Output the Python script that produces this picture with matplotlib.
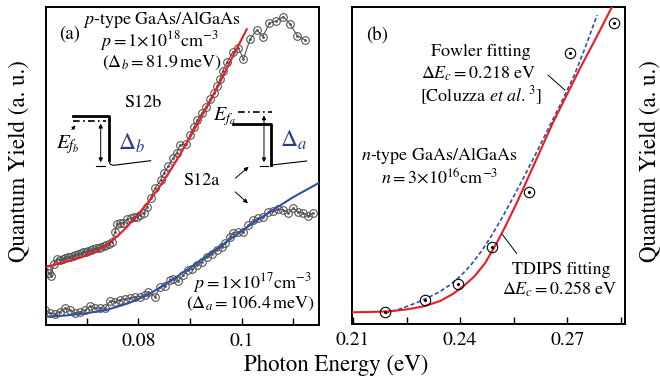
import matplotlib
matplotlib.use("Agg")
import matplotlib.pyplot as plt
from matplotlib.ticker import FixedLocator

plt.rcParams['font.family'] = ['STIXGeneral', 'Liberation Serif', 'DejaVu Serif']
plt.rcParams['mathtext.fontset'] = 'stix'

# ---- panel (a): p-type GaAs/AlGaAs ----
s12b_x = [0.06225, 0.06260, 0.06308, 0.06357, 0.06415,
          0.0648, 0.0653, 0.0658, 0.0663, 0.0668, 0.0673, 0.0678, 0.0683, 0.0688, 0.0693,
          0.0698, 0.0703, 0.0708, 0.0713, 0.0718, 0.0723, 0.0728, 0.0733, 0.0738, 0.0743, 0.0748,
          0.07548, 0.07587, 0.07645, 0.07703, 0.07781, 0.07853, 0.07917, 0.07975, 0.08033,
          0.08110, 0.08163, 0.08236, 0.08324, 0.08434, 0.08498, 0.08581, 0.08667, 0.08744,
          0.08808, 0.08924, 0.09002, 0.09079, 0.09143, 0.09229, 0.09312, 0.09390, 0.09467,
          0.09531, 0.09583, 0.09636, 0.09725, 0.09829, 0.09938, 0.10035, 0.10165, 0.10295,
          0.10411, 0.10539, 0.10669, 0.10810, 0.10940, 0.11081, 0.11231]
s12b_y = [17.6, 16.4, 15.4, 19.2, 20.8,
          20.4, 20.8, 21.0, 21.3, 21.5, 21.8, 22.0, 22.3, 22.5, 22.8,
          23.0, 23.3, 23.5, 23.8, 24.1, 24.3, 24.6, 24.9, 25.2, 25.5, 26.0,
          29.3, 31.8, 32.1, 32.1, 33.3, 33.6, 34.0, 34.0, 34.6,
          35.2, 37.1, 39.9, 43.1, 45.6, 47.9, 50.0, 52.4, 54.2,
          56.6, 56.9, 59.7, 62.4, 64.5, 66.6, 68.6, 71.0, 73.1,
          75.2, 77.3, 79.9, 82.8, 85.8, 87.2, 83.6, 89.9, 92.8,
          90.7, 94.9, 95.6, 97.0, 94.6, 91.0, 89.6]

s12a_x = [0.06195, 0.06289, 0.06386, 0.06483, 0.06579, 0.06676, 0.06773, 0.06870, 0.06967,
          0.07064, 0.07161, 0.07258, 0.07355, 0.07453, 0.07549, 0.07645, 0.07742, 0.07839,
          0.07936, 0.08033, 0.08130, 0.08194, 0.08324, 0.08421, 0.08517, 0.08614, 0.08678,
          0.08775, 0.08872, 0.08969, 0.09035, 0.09132, 0.09229, 0.09326, 0.09422, 0.09519,
          0.09616, 0.09680, 0.09777, 0.09841, 0.09938, 0.10035, 0.10132, 0.10229, 0.10326,
          0.10422, 0.10519, 0.10616, 0.10713, 0.10810, 0.10907, 0.11004, 0.11101, 0.11198,
          0.11294, 0.11391]
s12a_y = [4.7, 3.7, 3.5, 4.2, 5.3, 4.7, 3.7, 4.2, 4.7,
          6.0, 5.3, 5.3, 5.3, 7.6, 7.3, 7.9, 8.1, 8.4,
          8.9, 8.9, 9.4, 10.5, 8.9, 12.0, 12.3, 14.2, 14.5,
          13.9, 15.7, 17.3, 17.5, 18.9, 19.9, 21.3, 22.3, 23.6,
          24.6, 25.7, 27.8, 29.0, 29.3, 29.3, 31.4, 33.0, 33.6,
          33.9, 35.4, 35.9, 36.4, 36.2, 35.3, 36.7, 35.6, 35.1,
          34.3, 35.3]

fit_b_x = [0.0621, 0.0640, 0.0660, 0.0680, 0.0700, 0.0720, 0.0740, 0.0760, 0.0780,
           0.0800, 0.0820, 0.0840, 0.0860, 0.0880, 0.0900, 0.0920, 0.0940, 0.0960,
           0.0980, 0.1010]
fit_b_y = [18.3, 19.0, 19.9, 20.8, 21.9, 23.4, 25.3, 28.0, 31.2,
           34.9, 38.8, 43.2, 48.1, 53.4, 59.0, 64.8, 70.6, 76.9,
           83.5, 93.0]

fit_a_x = [0.0621, 0.0660, 0.0700, 0.0740, 0.0780, 0.0820, 0.0860, 0.0900, 0.0940,
           0.0980, 0.1020, 0.1060, 0.1100, 0.1150]
fit_a_y = [2.6, 3.0, 3.7, 4.8, 6.8, 9.6, 13.6, 18.0, 22.6,
           27.2, 31.8, 36.1, 40.2, 44.7]

# ---- panel (b): n-type GaAs/AlGaAs ----
n_x = [0.2190, 0.2303, 0.2393, 0.2490, 0.2593, 0.2708, 0.2832]
n_y = [3.7, 7.6, 12.5, 24.2, 41.7, 85.6, 95.0]

tdips_x = [0.2097, 0.2150, 0.2200, 0.2250, 0.2300, 0.2345, 0.2380, 0.2410, 0.2440,
           0.2470, 0.2500, 0.2530, 0.2560, 0.2590, 0.2620, 0.2660, 0.2700, 0.2740,
           0.2780, 0.2830]
tdips_y = [3.7, 3.8, 4.0, 4.6, 5.6, 7.3, 9.5, 12.0, 15.0,
           19.2, 25.0, 31.5, 38.5, 46.0, 53.5, 63.5, 72.5, 81.5,
           90.0, 101.0]

fowler_x = [0.2190, 0.2220, 0.2250, 0.2280, 0.2310, 0.2340, 0.2370, 0.2400, 0.2430,
            0.2460, 0.2490, 0.2520, 0.2550, 0.2580, 0.2610, 0.2640, 0.2680, 0.2720,
            0.2750, 0.2784]
fowler_y = [3.4, 4.3, 5.5, 6.8, 8.3, 10.0, 12.2, 15.0, 18.6,
            23.0, 28.2, 34.0, 40.2, 46.6, 53.2, 60.0, 69.0, 78.5,
            87.0, 97.5]

a_major = [0.08, 0.10]
a_major_labels = ['0.08', '0.1']
a_minor = [0.07, 0.09, 0.11]
b_major = [0.21, 0.24, 0.27]
b_major_labels = ['0.21', '0.24', '0.27']
b_minor = [0.225, 0.255, 0.285]

RED = '#ec1c24'
BLUE = '#2e51a6'
NAVY = '#2b3990'
GRAY = '#555555'

fig = plt.figure(figsize=(6.6, 3.81), dpi=100)
axa = fig.add_axes([0.0697, 0.147, 0.4136, 0.8346])
axb = fig.add_axes([0.5333, 0.1496, 0.4136, 0.832])

for ax in (axa, axb):
    for sp in ax.spines.values():
        sp.set_linewidth(1.4)
    ax.set_yticks([])
    ax.set_ylim(0, 100)
    ax.tick_params(axis='x', which='both', direction='in', labelsize=14,
                   width=1.0, pad=6, length=5)

# panel (a)
axa.set_xlim(0.0621, 0.1150)
axa.set_xticks(a_major)
axa.set_xticklabels(a_major_labels)
axa.xaxis.set_minor_locator(FixedLocator(a_minor))

for xs, ys in ((s12b_x, s12b_y), (s12a_x, s12a_y)):
    axa.plot(xs, ys, '-', color=GRAY, lw=0.8, marker='o', ms=5.5, mfc='none',
             mec=GRAY, mew=0.8, zorder=2)
    axa.plot(xs, ys, ls='none', marker='o', ms=1.0, color=GRAY, zorder=2)
axa.plot(fit_b_x, fit_b_y, '-', color=RED, lw=1.5, zorder=3)
axa.plot(fit_a_x, fit_a_y, '-', color=BLUE, lw=1.5, zorder=3)

T = axa.transAxes
fs = 13
axa.text(0.088, 0.915, '(a)', transform=T, fontsize=13.5, ha='center', va='center')
axa.text(0.425, 0.959, r'$p$-type GaAs/AlGaAs', transform=T, fontsize=fs, ha='center', va='center')
axa.text(0.414, 0.893, r'$p = 1{\times}10^{18}\mathrm{cm}^{-3}$', transform=T, fontsize=fs, ha='center', va='center')
axa.text(0.425, 0.824, r'($\Delta_b = 81.9\,\mathrm{meV}$)', transform=T, fontsize=fs, ha='center', va='center')
axa.text(0.755, 0.132, r'$p = 1{\times}10^{17}\mathrm{cm}^{-3}$', transform=T, fontsize=fs, ha='center', va='center')
axa.text(0.747, 0.069, r'($\Delta_a = 106.4\,\mathrm{meV}$)', transform=T, fontsize=fs, ha='center', va='center')
axa.text(0.355, 0.698, 'S12b', transform=T, fontsize=fs, ha='center', va='center')
axa.text(0.571, 0.453, 'S12a', transform=T, fontsize=fs, ha='center', va='center')

# band diagram for S12b
axa.plot([0.098, 0.232, 0.232], [0.658, 0.658, 0.519], color='k', lw=2.0, transform=T)
axa.plot([0.232, 0.2344, 0.2454, 0.3835], [0.519, 0.506, 0.502, 0.5167], color='k', lw=0.8, transform=T)
axa.plot([0.098, 0.22], [0.642, 0.642], color='k', lw=1.2, ls=(0, (4, 2, 1, 2)), transform=T)
axa.annotate('', xy=(0.2004, 0.642), xytext=(0.2004, 0.503), xycoords=T,
             arrowprops=dict(arrowstyle='<|-|>', lw=0.7, color='k', mutation_scale=6))
axa.plot([0.183, 0.216], [0.5, 0.5], color='k', lw=0.8, transform=T)
axa.annotate('', xy=(0.115, 0.634), xytext=(0.088, 0.608), xycoords=T,
             arrowprops=dict(arrowstyle='-|>', lw=0.7, color='k', mutation_scale=5))
axa.text(0.081, 0.566, r'$E_{f_b}$', transform=T, fontsize=15, ha='center', va='center')
axa.text(0.315, 0.572, r'$\Delta_b$', transform=T, fontsize=17, color=NAVY, ha='center', va='center')

# band diagram for S12a
axa.plot([0.704, 0.827], [0.671, 0.671], color='k', lw=1.2, ls=(0, (4, 2, 1, 2)), transform=T)
axa.plot([0.686, 0.823, 0.823], [0.632, 0.632, 0.503], color='k', lw=2.0, transform=T)
axa.plot([0.825, 0.955], [0.503, 0.5157], color='k', lw=0.8, transform=T)
axa.annotate('', xy=(0.7985, 0.668), xytext=(0.7985, 0.503), xycoords=T,
             arrowprops=dict(arrowstyle='<|-|>', lw=0.7, color='k', mutation_scale=6))
axa.plot([0.784, 0.814], [0.5, 0.5], color='k', lw=0.8, transform=T)
axa.text(0.652, 0.655, r'$E_{f_a}$', transform=T, fontsize=14.5, ha='center', va='center')
axa.text(0.908, 0.582, r'$\Delta_a$', transform=T, fontsize=17, color=NAVY, ha='center', va='center')

axa.annotate('', xy=(0.750, 0.503), xytext=(0.686, 0.456), xycoords=T,
             arrowprops=dict(arrowstyle='-|>', lw=0.7, color='k', mutation_scale=6))
axa.annotate('', xy=(0.747, 0.377), xytext=(0.686, 0.4245), xycoords=T,
             arrowprops=dict(arrowstyle='-|>', lw=0.7, color='k', mutation_scale=6))

# panel (b)
axb.set_xlim(0.2097, 0.2862)
axb.set_xticks(b_major)
axb.set_xticklabels(b_major_labels)
axb.xaxis.set_minor_locator(FixedLocator(b_minor))

axb.plot(fowler_x, fowler_y, '--', color=BLUE, lw=1.2, dashes=(2.5, 1.5), zorder=3)
axb.plot(tdips_x, tdips_y, '-', color=RED, lw=1.5, zorder=3)
axb.plot(n_x, n_y, ls='none', marker='o', ms=7.5, mfc='none', mec='k', mew=0.8, zorder=4)
axb.plot(n_x, n_y, ls='none', marker='o', ms=1.2, color='k', zorder=4)

T = axb.transAxes
axb.text(0.092, 0.908, '(b)', transform=T, fontsize=13.5, ha='center', va='center')
axb.text(0.472, 0.858, 'Fowler fitting', transform=T, fontsize=fs, ha='center', va='center')
axb.text(0.465, 0.789, r'$\Delta E_c = 0.218$ eV', transform=T, fontsize=fs, ha='center', va='center')
axb.text(0.472, 0.719, r'[Coluzza $et\ al.^{3}$]', transform=T, fontsize=fs, ha='center', va='center')
axb.plot([0.718, 0.780], [0.7855, 0.738], color='k', lw=0.7, transform=T)
axb.text(0.319, 0.530, r'$n$-type GaAs/AlGaAs', transform=T, fontsize=fs, ha='center', va='center')
axb.text(0.319, 0.464, r'$n = 3{\times}10^{16}\mathrm{cm}^{-3}$', transform=T, fontsize=fs, ha='center', va='center')
axb.plot([0.548, 0.603], [0.286, 0.223], color='k', lw=0.7, transform=T)
axb.text(0.766, 0.170, 'TDIPS fitting', transform=T, fontsize=fs, ha='center', va='center')
axb.text(0.762, 0.110, r'$\Delta E_c = 0.258$ eV', transform=T, fontsize=fs, ha='center', va='center')

# shared labels
fig.text(0.509, 0.042, 'Photon Energy (eV)', fontsize=16.5, ha='center', va='center')
fig.text(0.030, 0.577, 'Quantum Yield (a. u.)', fontsize=16.5, rotation=90, ha='center', va='center')
fig.text(0.986, 0.577, 'Quantum Yield (a. u.)', fontsize=16.5, rotation=90, ha='center', va='center')

fig.savefig('out.png', dpi=100)
